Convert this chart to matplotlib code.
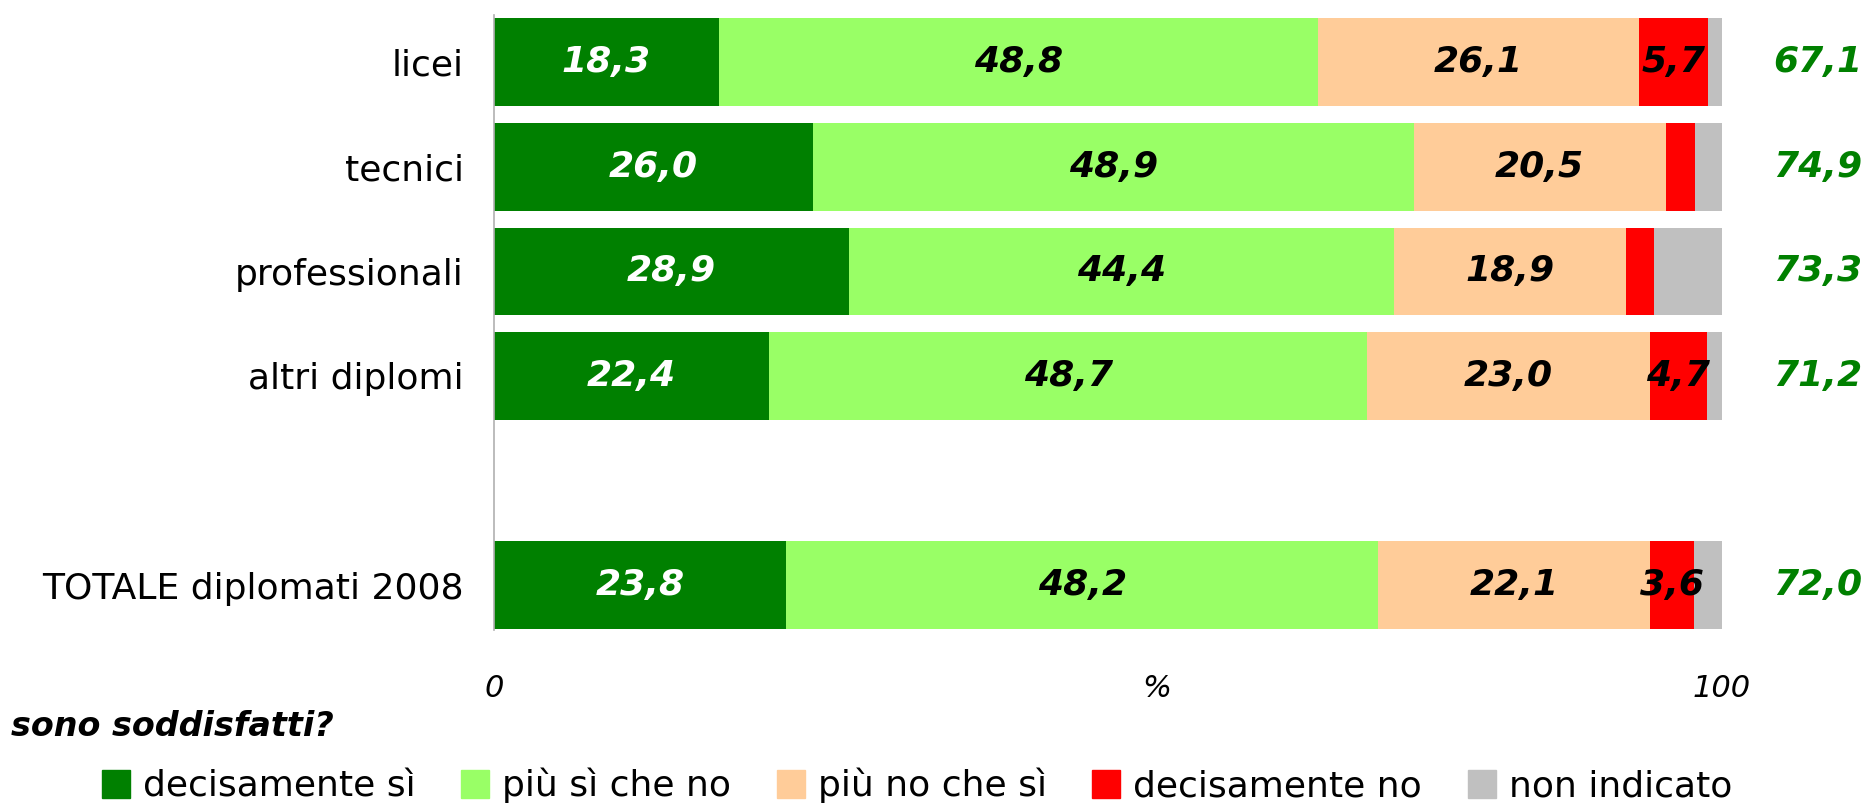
import matplotlib
matplotlib.use("Agg")
import matplotlib.pyplot as plt
import matplotlib.transforms as mtransforms
from matplotlib.lines import Line2D

categories = ["licei", "tecnici", "professionali", "altri diplomi", "TOTALE diplomati 2008"]
positions = [0, 1, 2, 3, 5]
series_names = ["decisamente sì", "più sì che no", "più no che sì", "decisamente no", "non indicato"]
decisamente_si = [18.3, 26.0, 28.9, 22.4, 23.8]
piu_si = [48.8, 48.9, 44.4, 48.7, 48.2]
piu_no = [26.1, 20.5, 18.9, 23.0, 22.1]
decisamente_no = [5.7, 2.4, 2.3, 4.7, 3.6]
non_indicato = [1.1, 2.2, 5.5, 1.2, 2.3]
totals_si = [67.1, 74.9, 73.3, 71.2, 72.0]
tick_labels = ["0", "%", "100"]
tick_pos = [0, 54, 100]

colors = ["#008000", "#99FF66", "#FFCC99", "#FF0000", "#C0C0C0"]
label_colors = ["white", "black", "black", "black", None]
series = [decisamente_si, piu_si, piu_no, decisamente_no, non_indicato]

plt.rcParams['font.family'] = ['DejaVu Sans']
fig = plt.figure(figsize=(18.75, 8.05), dpi=100)
ax = fig.add_axes([0.2635, 0.2174, 0.6549, 0.7636])

left = [0.0] * len(categories)
for vals, col, lc in zip(series, colors, label_colors):
    ax.barh(positions, vals, left=left, height=0.84, color=col, edgecolor='none')
    if lc is not None:
        for p, l, v in zip(positions, left, vals):
            if v >= 3:
                ax.text(l + v / 2, p, f"{v:.1f}".replace('.', ','), ha='center', va='center',
                        fontsize=26, fontweight='bold', fontstyle='italic', color=lc)
    left = [a + b for a, b in zip(left, vals)]

for p, t in zip(positions, totals_si):
    ax.text(107.8, p, f"{t:.1f}".replace('.', ','), ha='center', va='center',
            fontsize=26, fontweight='bold', fontstyle='italic', color='#008000',
            clip_on=False)

ax.set_xlim(0, 100)
ax.set_ylim(5.43, -0.45)
ax.set_yticks(positions)
ax.set_yticklabels(categories, fontsize=26)
ax.tick_params(axis='y', length=0, pad=22)
ax.set_xticks([])
for s in ['top', 'right', 'bottom']:
    ax.spines[s].set_visible(False)
ax.spines['left'].set_color('#B0B0B0')
ax.spines['left'].set_linewidth(1.2)

offset = mtransforms.ScaledTranslation(0, -0.44, fig.dpi_scale_trans)
for x, t in zip(tick_pos, tick_labels):
    ax.text(x, 5.43, t, transform=ax.transData + offset, ha='center', va='top',
            fontsize=22, fontstyle='italic')

fig.text(0.006, 0.097, "sono soddisfatti?", fontsize=24, fontweight='bold', fontstyle='italic',
         ha='left', va='center')

handles = [Line2D([0], [0], marker='s', linestyle='none', markersize=20, markerfacecolor=c,
                  markeredgecolor=c) for c in colors]
fig.legend(handles, series_names, loc='center', bbox_to_anchor=(0.488, 0.024), ncol=5,
           frameon=False, fontsize=26, handletextpad=0.25, columnspacing=1.15, handlelength=1.0)

fig.savefig("out.png", dpi=100)
